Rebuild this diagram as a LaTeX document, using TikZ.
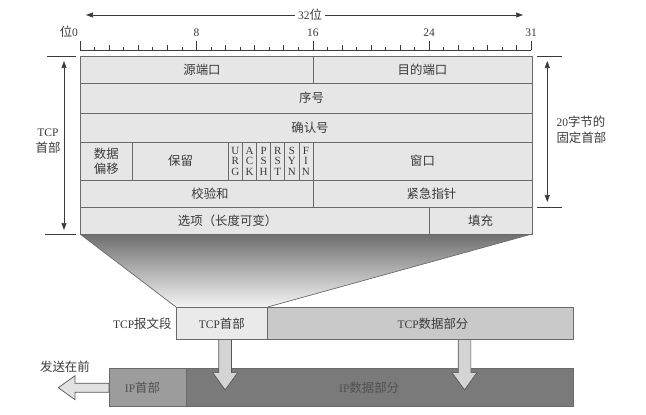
\documentclass[tikz,border=0pt]{standalone}
\usepackage{fontspec}
\setmainfont{Liberation Serif}
\newfontfamily\cjk[Scale=1.08]{Noto Sans CJK SC}
\newcommand{\zh}[1]{{\cjk #1}}
\newcommand{\nudge}[1]{\hspace*{#1}}
\usepackage{tikz}
\usetikzlibrary{positioning,arrows.meta,calc}
\definecolor{ink}{HTML}{3A3A3A}
\definecolor{ipink}{HTML}{505050}
\definecolor{rule}{HTML}{6A6A6A}
\definecolor{fieldc}{HTML}{E6E6E6}
\definecolor{tcphc}{HTML}{EAEAEA}
\definecolor{tcpdc}{HTML}{C9C9C9}
\definecolor{iphc}{HTML}{9C9C9C}
\definecolor{ipdc}{HTML}{7A7A7A}
\definecolor{blockc}{HTML}{D4D4D4}
\definecolor{sendc}{HTML}{E2E2E2}
\definecolor{shadetop}{HTML}{6E6E6E}
\definecolor{shadebot}{HTML}{F4F4F4}
\pgfdeclarelayer{bg}
\pgfsetlayers{bg,main}

\begin{document}
\begin{tikzpicture}[x=1pt, y=-1pt, font=\fontsize{11.5}{13}\selectfont, text=ink,
   field/.style={draw=rule, fill=fieldc, line width=0.7pt, anchor=north west,
      inner sep=0pt, outer sep=0pt, font=\fontsize{11.5}{13}\selectfont\cjk},
   flag/.style={field, minimum width=14.12pt, minimum height=38pt, align=center,
      font=\fontsize{11}{10.5}\selectfont},
   seg/.style={draw=rule, line width=0.7pt, inner sep=0pt, outer sep=0pt, minimum height=32.6pt},
   dim/.style={draw=ink, line width=0.6pt},
   tip/.style={-{Triangle[length=7pt,width=5pt]}},
   both/.style={{Triangle[length=7pt,width=5pt]}-{Triangle[length=7pt,width=5pt]}},
   block/.style={draw=rule!80!black, fill=blockc, line width=0.7pt, line join=miter}]

   \useasboundingbox (0,0) rectangle (646,415);

   % bit ruler
   \draw[dim] (80,50) -- (531,50);
   \foreach \b in {0,...,31} {
      \pgfmathsetmacro\h{ifthenelse(mod(\b,8)==0 || \b==31, 9.5, ifthenelse(mod(\b,2)==0, 5, 3))}
      \draw[dim] (80+\b*14.55,50) -- ++(0,-\h);
   }
   \node[anchor=base east] (b0) at (81.5,36) {\zh{位}0};
   \foreach \b in {8,16,24,31}
      \node[anchor=base] (b\b) at (80+\b*14.55,36) {\b};

   \node (w32) at (310,15) {32\zh{位}};
   \coordinate (wl) at (86,15);
   \coordinate (wr) at (523,15);
   \draw[dim, tip] (w32) -- (wl);
   \draw[dim, tip] (w32) -- (wr);

   % header fields
   \node[field, minimum width=233pt, minimum height=27pt] (src) at (80,56) {\nudge{11pt}源端口};
   \node[field, minimum width=219pt, minimum height=27pt] (dst) at (313,56) {目的端口};
   \node[field, minimum width=452pt, minimum height=30pt] (seq) at (80,83) {\nudge{11pt}序号};
   \node[field, minimum width=452pt, minimum height=29pt] (ack) at (80,113) {\nudge{8pt}确认号};
   \node[field, minimum width=52.7pt, minimum height=38pt, align=center,
      font=\fontsize{11.5}{15}\selectfont\cjk] (off) at (80,142) {数据\\偏移};
   \node[field, minimum width=95.6pt, minimum height=38pt] (rsv) at (132.7,142) {保留};
   \foreach \f [count=\i from 0] in {U\\R\\G, A\\C\\K, P\\S\\H, R\\S\\T, S\\Y\\N, F\\I\\N}
      \node[flag] (flag\i) at (228.3+\i*14.12,142) {\f};
   \node[field, minimum width=219pt, minimum height=38pt] (win) at (313,142) {窗口};
   \node[field, minimum width=233pt, minimum height=27pt] (chk) at (80,180) {\nudge{27pt}校验和};
   \node[field, minimum width=219pt, minimum height=27pt] (urp) at (313,180) {\nudge{18pt}紧急指针};
   \node[field, minimum width=349.3pt, minimum height=27pt] (opt) at (80,207) {\nudge{-54pt}选项（长度可变）};
   \node[field, minimum width=102.7pt, minimum height=27pt] (pad) at (429.3,207) {填充};

   % header size marks
   \draw[dim] (47,56) -- (76,56);
   \draw[dim] (45,234) -- (76,234);
   \coordinate (ht) at (64,61);
   \coordinate (hb) at (64,230);
   \draw[dim, both] (ht) -- (hb);
   \node[align=center, font=\fontsize{11.5}{16}\selectfont] (hlab) at (48,141) {TCP\\\zh{首部}};

   \draw[dim] (537,56) -- (562,56);
   \draw[dim] (537,207) -- (562,207);
   \coordinate (ft) at (547.3,61);
   \coordinate (fb) at (547.3,202);
   \draw[dim, both] (ft) -- (fb);
   \node[anchor=west, align=left, font=\fontsize{11.5}{16}\selectfont] (flab) at (553,130)
      {20\zh{字节的}\\\zh{固定首部}};

   % segment and datagram
   \node[seg, fill=tcphc, anchor=north west, minimum width=91.7pt] (tcph) at (176,307) {TCP\zh{首部}};
   \node[seg, fill=tcpdc, minimum width=305.6pt, right=0pt of tcph] (tcpd) {\nudge{25pt}TCP\zh{数据部分}};
   \node[left=1pt of tcph] (tcpseg) {TCP\zh{报文段}};

   \node[seg, fill=iphc, anchor=north west, minimum width=77pt, minimum height=38pt, text=ipink]
      (iph) at (109,368.7) {\nudge{-10pt}IP\zh{首部}};
   \node[seg, fill=ipdc, minimum width=387.3pt, minimum height=38pt, right=0pt of iph, text=ipink]
      (ipd) {\nudge{-21pt}IP\zh{数据部分}};

   \begin{pgfonlayer}{bg}
      \shade[top color=shadetop, bottom color=shadebot]
         (opt.south west) -- (pad.south east) -- (tcph.north east) -- (tcph.north west) -- cycle;
   \end{pgfonlayer}
   \draw[rule, line width=0.7pt] (opt.south west) -- (tcph.north west);
   \draw[rule, line width=0.7pt] (pad.south east) -- (tcph.north east);

   \foreach \nd/\dx in {tcph/3.3, tcpd/44}
      \draw[block] ($(\nd.south)+(\dx-6.35,0)$) -- ++(0,33) -- ++(-6.15,0) -- ++(12.5,17.3)
         -- ++(12.5,-17.3) -- ++(-6.15,0) -- ++(0,-33) -- cycle;

   \draw[block, fill=sendc] ($(iph.west)+(0,-4.5)$) -- ++(-34,0) -- ++(0,-7.5) -- ++(-16.7,12)
      -- ++(16.7,12) -- ++(0,-7.5) -- ++(34,0) -- cycle;
   \node (send) at (65,367) {\zh{发送在前}};
\end{tikzpicture}
\end{document}
